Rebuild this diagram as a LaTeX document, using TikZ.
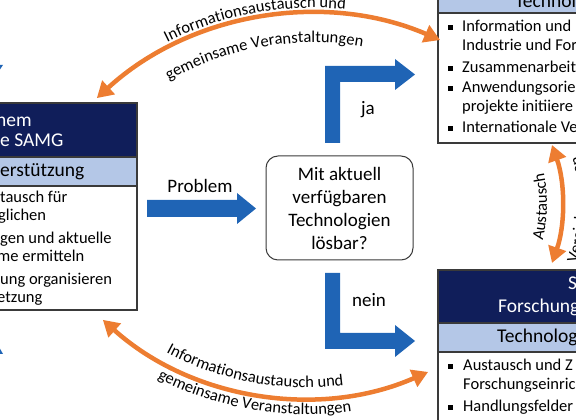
\documentclass[tikz,border=0pt]{standalone}
\usepackage{fontspec}
\setmainfont{Carlito}
\usetikzlibrary{arrows.meta,decorations.text}
\definecolor{navy}{HTML}{101E5A}
\definecolor{band}{HTML}{B4C7E7}
\definecolor{ablue}{HTML}{1F64B5}
\definecolor{aorange}{HTML}{ED7D31}
\definecolor{frame}{HTML}{3A3A3A}
\newcommand{\hdfont}{\fontsize{19.5}{23}\selectfont}
\newcommand{\bdfont}{\fontsize{16.5}{19}\selectfont}
\newcommand{\arcfont}{\fontsize{16.5}{19}\selectfont}
\newcommand{\qfont}{\fontsize{19}{23}\selectfont}
\tikzset{
  secbox/.style={draw=frame, line width=1.2pt, inner sep=0pt, outer sep=0pt, minimum width=150pt},
  hdtxt/.style={font=\hdfont, inner sep=0pt, text height=14pt, text depth=5pt},
  bdtxt/.style={font=\bdfont, inner sep=0pt, text height=12pt, text depth=4pt},
  bul/.style={fill=black, inner sep=0pt, minimum size=5pt},
  qbox/.style={draw=frame, line width=1pt, rounded corners=12pt, minimum width=147pt, minimum height=104pt, align=center, font=\qfont, fill=white, inner sep=2pt},
  lbl/.style={font=\qfont, inner sep=0pt},
  barrow/.style={fill=ablue},
  oarrow/.style={draw=aorange, line width=4.5pt, arrows={Triangle[length=16pt,width=18pt]-Triangle[length=16pt,width=18pt]}},
  arctxt/.style={decorate, decoration={text along path, text align=center, text={#1}}}
}
\begin{document}
\begin{tikzpicture}[x=1pt,y=1pt]
\useasboundingbox (0,0) rectangle (576,420);
\clip (0,0) rectangle (576,420);

% left box
\node[secbox, fill=navy, minimum height=54pt, anchor=south east] (Lh) at (137,263) {};
\node[secbox, fill=band, minimum height=29pt, anchor=north east] (Lb) at (Lh.south east) {};
\node[secbox, fill=white, minimum height=124pt, anchor=north east] (Lc) at (Lb.south east) {};
\node[hdtxt, text=white, anchor=west] (l1) at (-4,298) {hem};
\node[hdtxt, text=white, anchor=west] (l2) at (0,278) {e SAMG};
\node[hdtxt, anchor=west] (l3) at (0,248) {erstützung};
\node[bdtxt, anchor=west] (l4) at (0,221) {tausch für};
\node[bdtxt, anchor=west] (l5) at (-2,203) {glichen};
\node[bdtxt, anchor=west] (l6) at (0,180) {gen und aktuelle};
\node[bdtxt, anchor=west] (l7) at (-3,162) {me ermitteln};
\node[bdtxt, anchor=west] (l8) at (0,139) {ung organisieren};
\node[bdtxt, anchor=west] (l9) at (-3,121) {etzung};

% right top box
\node[secbox, fill=navy, minimum height=40pt, anchor=south west] (Th) at (438,437) {};
\node[secbox, fill=band, minimum height=30pt, anchor=south west] (Tb) at (438,407) {};
\node[secbox, fill=white, minimum height=130pt, anchor=north west] (Tc) at (Tb.south west) {};
\node[hdtxt, anchor=base west] (t0) at (515,412) {Technolo};
\node[bul] (tb1) at (450,392) {};
\node[bdtxt, anchor=west] (t1) at (462,392) {Information und};
\node[bdtxt, anchor=west] (t2) at (462,373) {Industrie und For};
\node[bul] (tb3) at (450,351) {};
\node[bdtxt, anchor=west] (t3) at (462,351) {Zusammenarbeit};
\node[bul] (tb4) at (450,331) {};
\node[bdtxt, anchor=west] (t4) at (462,331) {Anwendungsorie};
\node[bdtxt, anchor=west] (t5) at (462,312) {projekte initiiere};
\node[bul] (tb6) at (450,291) {};
\node[bdtxt, anchor=west] (t6) at (462,291) {Internationale Ve};

% right bottom box
\node[secbox, fill=navy, minimum height=53pt, anchor=north west] (Bh) at (438,150) {};
\node[secbox, fill=band, minimum height=29pt, anchor=north west] (Bb) at (Bh.south west) {};
\node[secbox, fill=white, minimum height=90pt, anchor=north west] (Bc) at (Bb.south west) {};
\node[hdtxt, text=white, anchor=west] (b1) at (568,135) {S};
\node[hdtxt, text=white, anchor=west] (b2) at (498,112) {Forschung};
\node[hdtxt, anchor=west] (b3) at (497,82) {Technolog};
\node[bul] (bb4) at (450,53) {};
\node[bdtxt, anchor=west] (b4) at (463,53) {Austausch und Z};
\node[bdtxt, anchor=west] (b5) at (463,34) {Forschungseinric};
\node[bul] (bb6) at (450,12) {};
\node[bdtxt, anchor=west] (b6) at (463,12) {Handlungsfelder};

% decision
\node[qbox] (q) at (339.5,212) {Mit aktuell\\verfügbaren\\Technologien\\lösbar?};

% blue arrows
\fill[barrow] (147,203) -- (237,203) -- (237,196) -- (256,211.5) -- (237,227) -- (237,220) -- (147,220) -- cycle;
\fill[barrow] (325,277) -- (340,277) -- (340,338) -- (395,338) -- (395,330) -- (415,345.5) -- (395,361) -- (395,354) -- (325,354) -- cycle;
\fill[barrow] (325,147) -- (340,147) -- (340,87) -- (395,87) -- (395,95) -- (415,79) -- (395,63) -- (395,71) -- (325,71) -- cycle;
\fill[barrow] (-6,355) -- (3,355) -- (-1,349) -- cycle;
\fill[barrow] (-6,66) -- (3,66) -- (-1,73) -- cycle;
\node[lbl] (lp) at (200,234) {Problem};
\node[lbl] (lj) at (368,310) {ja};
\node[lbl] (ln) at (369,120) {nein};

% orange arcs
\coordinate (tc) at (313.4,85.5);
\coordinate (bc) at (305.9,326.5);
\coordinate (vc) at (383,216);
\draw[oarrow] ([shift={(132.5:320.6pt)}]tc) arc[start angle=132.5, end angle=66.7, radius=320.6pt];
\path[arctxt={|\arcfont|Informationsaustausch und}] ([shift={(140:326.6pt)}]tc) arc[start angle=140, end angle=61, radius=326.6pt];
\path[arctxt={|\arcfont|gemeinsame Veranstaltungen}] ([shift={(140:292pt)}]tc) arc[start angle=140, end angle=60, radius=292pt];

\draw[oarrow] ([shift={(228.1:304.1pt)}]bc) arc[start angle=228.1, end angle=293.7, radius=304.1pt];
\path[arctxt={|\arcfont|Informationsaustausch und}] ([shift={(229:294pt)}]bc) arc[start angle=229, end angle=290, radius=294pt];
\path[arctxt={|\arcfont|gemeinsame Veranstaltungen}] ([shift={(230:321pt)}]bc) arc[start angle=230, end angle=290.6, radius=321pt];

\draw[oarrow] ([shift={(-19.25:179pt)}]vc) arc[start angle=-19.25, end angle=19.25, radius=179pt];
\path[arctxt={|\arcfont|Austausch}] ([shift={(-31:164pt)}]vc) arc[start angle=-31, end angle=29, radius=164pt];
\path[arctxt={|\arcfont|Vereinbarungen}] ([shift={(-31.7:203pt)}]vc) arc[start angle=-31.7, end angle=28.3, radius=203pt];
\end{tikzpicture}
\end{document}
